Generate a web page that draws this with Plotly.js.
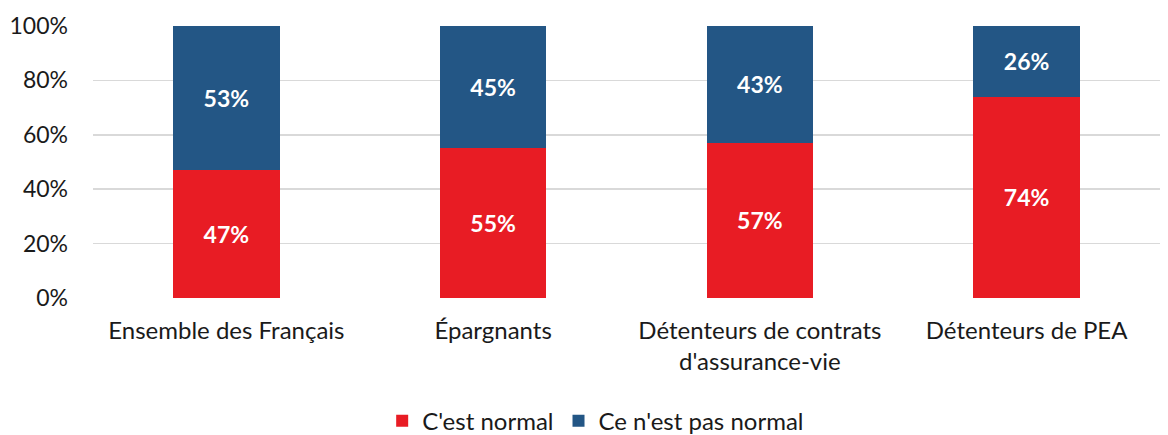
<!DOCTYPE html>
<html>
<head>
<meta charset="utf-8">
<script src="https://cdn.plot.ly/plotly-3.0.1.min.js"></script>
<style>
  html, body { margin: 0; padding: 0; background: #fff; }
  #chart { width: 1168px; height: 435px; }
</style>
</head>
<body>
<div id="chart"></div>
<script>
// categories on the x axis
const categories = [
  'Ensemble des Français',
  'Épargnants',
  'Détenteurs de contrats<br>d\'assurance-vie',
  'Détenteurs de PEA'
];

// share answering each option (%)
const normal = [47, 55, 57, 74];
const pasNormal = [53, 45, 43, 26];

const tickVals = [0, 20, 40, 60, 80, 100];
const tickText = ['0%', '20%', '40%', '60%', '80%', '100%'];

const font = 'Lato, Open Sans, sans-serif';

const normalBars = {
  x: categories,
  y: normal,
  type: 'bar',
  name: "C'est normal",
  marker: { color: '#E81C24' },
  text: normal.map(v => v + '%'),
  textposition: 'inside',
  insidetextanchor: 'middle',
  textfont: { color: '#ffffff', size: 23, family: font, weight: 'bold' },
  hoverinfo: 'skip'
};

const pasNormalBars = {
  x: categories,
  y: pasNormal,
  type: 'bar',
  name: "Ce n'est pas normal",
  marker: { color: '#235685' },
  text: pasNormal.map(v => v + '%'),
  textposition: 'inside',
  insidetextanchor: 'middle',
  textfont: { color: '#ffffff', size: 23, family: font, weight: 'bold' },
  hoverinfo: 'skip'
};

const layout = {
  width: 1168,
  height: 435,
  barmode: 'stack',
  bargap: 0.6,
  margin: { l: 93, r: 8, t: 26, b: 137, autoexpand: false },
  paper_bgcolor: '#ffffff',
  plot_bgcolor: '#ffffff',
  font: { family: font, size: 24, color: '#1a1a1a' },
  showlegend: true,
  legend: {
    orientation: 'h',
    x: 0.51,
    xref: 'container',
    xanchor: 'center',
    y: 0.032,
    yref: 'container',
    yanchor: 'middle',
    font: { size: 24, family: font },
    traceorder: 'normal',
    itemwidth: 30
  },
  xaxis: {
    tickfont: { size: 24 },
    showgrid: false,
    showline: false,
    ticks: '',
    automargin: false,
    ticklabelstandoff: 16
  },
  yaxis: {
    range: [0, 100],
    tickvals: tickVals,
    ticktext: tickText,
    tickfont: { size: 23 },
    gridcolor: '#d9d9d9',
    gridwidth: 1.5,
    zeroline: false,
    showline: false,
    ticks: '',
    automargin: false,
    ticklabelstandoff: 24
  }
};

Plotly.newPlot('chart', [normalBars, pasNormalBars], layout, { displayModeBar: false, staticPlot: true });
</script>
</body>
</html>
